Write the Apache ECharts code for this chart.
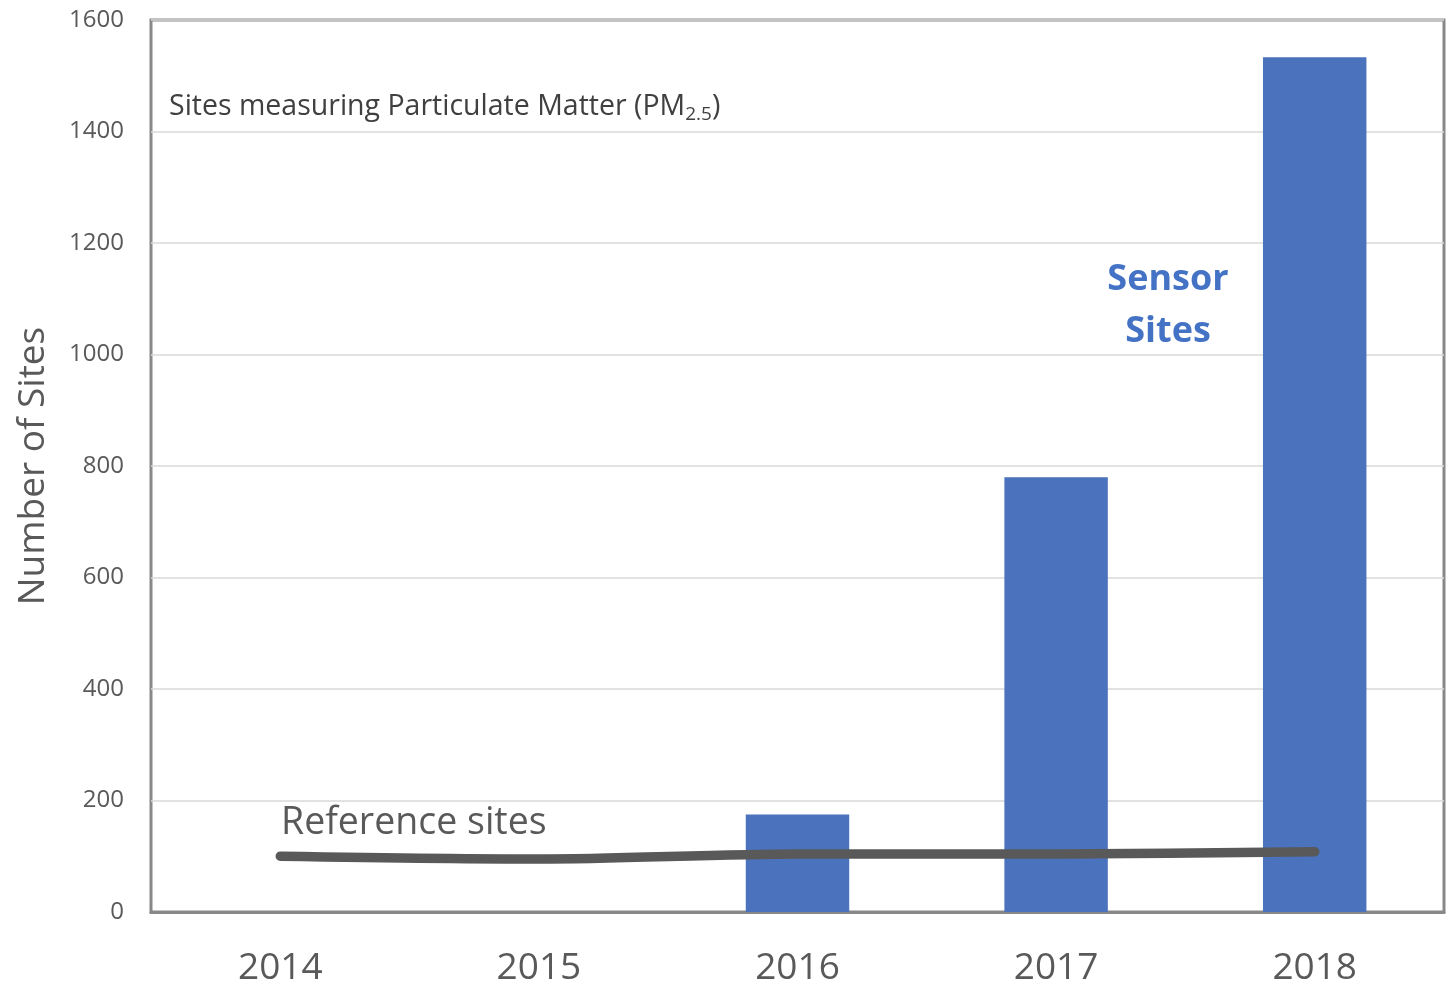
<!DOCTYPE html>
<html>
<head>
<meta charset="utf-8">
<script src="https://cdn.jsdelivr.net/npm/echarts@6/dist/echarts.min.js"></script>
<style>
    html, body { margin: 0; padding: 0; background: #fff; }
    #main { width: 1447px; height: 987px; }
</style>
</head>
<body>
<div id="main"></div>
<script>
var years = ['2014', '2015', '2016', '2017', '2018'];
var sensorSites = [null, null, 175, 780, 1533];
var referenceSites = [100, 95, 104, 104, 108];
var yTicks = [0, 200, 400, 600, 800, 1000, 1200, 1400, 1600];

var myChart = echarts.init(document.getElementById('main'));
var font = '"Open Sans", Lato, sans-serif';

var option = {
    backgroundColor: '#fff',
    animation: false,
    grid: {
        left: 151,
        right: 3,
        top: 20,
        bottom: 75,
        show: true,
        borderColor: '#888',
        borderWidth: 3
    },
    xAxis: {
        type: 'category',
        data: years,
        axisTick: { show: false },
        axisLine: { show: true, lineStyle: { color: '#888', width: 3 } },
        axisLabel: {
            color: '#595959',
            fontSize: 37,
            fontFamily: font,
            margin: 38
        }
    },
    yAxis: {
        type: 'value',
        min: yTicks[0],
        max: yTicks[yTicks.length - 1],
        interval: 200,
        name: 'Number of Sites',
        nameLocation: 'middle',
        nameGap: 99,
        nameTextStyle: { color: '#595959', fontSize: 37, fontFamily: font },
        axisLine: { show: false },
        axisTick: { show: false },
        axisLabel: {
            color: '#595959',
            fontSize: 24,
            fontFamily: font,
            margin: 27,
            formatter: function (v) { return String(v); }
        },
        splitLine: { lineStyle: { color: '#d9d9d9', width: 1.5 } }
    },
    graphic: [
        {
            type: 'text',
            x: 169,
            y: 107,
            z: 100,
            style: {
                text: '{a|Sites measuring Particulate Matter (PM}{s|2.5}{a|)}',
                verticalAlign: 'middle',
                rich: {
                    a: { fontSize: 28.5, fontFamily: font, fill: '#404040', lineHeight: 38 },
                    s: { fontSize: 19, fontFamily: font, fill: '#404040', lineHeight: 38, padding: [16, 0, 0, 0] }
                }
            }
        },
        {
            type: 'text',
            x: 281,
            y: 823,
            z: 100,
            style: {
                text: 'Reference sites',
                verticalAlign: 'middle',
                fontSize: 37.5,
                fontFamily: font,
                fill: '#595959'
            }
        },
        {
            type: 'text',
            x: 1168,
            y: 306,
            z: 100,
            style: {
                text: 'Sensor\nSites',
                align: 'center',
                verticalAlign: 'middle',
                fontSize: 36,
                fontWeight: 'bold',
                fontFamily: font,
                lineHeight: 52,
                fill: '#4472c4'
            }
        }
    ],
    series: [
        {
            name: 'Sensor Sites',
            type: 'bar',
            data: sensorSites,
            barWidth: '40%',
            itemStyle: { color: '#4a72bd' }
        },
        {
            name: 'Reference sites',
            type: 'line',
            data: referenceSites,
            showSymbol: false,
            symbol: 'none',
            smooth: 0.3,
            lineStyle: { color: '#595959', width: 9.5, cap: 'round' },
            z: 5
        }
    ]
};

myChart.setOption(option);
</script>
</body>
</html>
